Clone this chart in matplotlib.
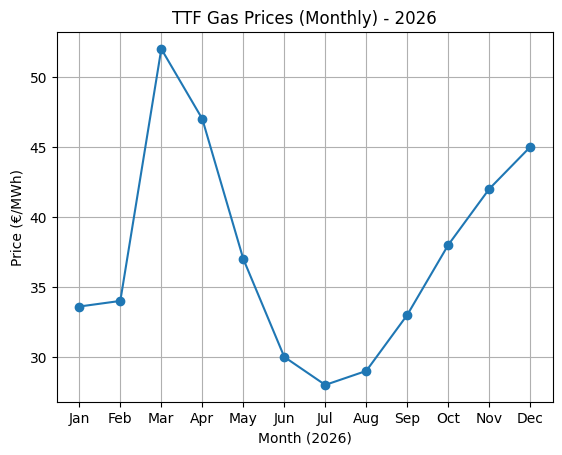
import matplotlib.pyplot as plt

months = ['Jan', 'Feb', 'Mar', 'Apr', 'May', 'Jun', 'Jul', 'Aug', 'Sep', 'Oct', 'Nov', 'Dec']
prices = [33.6, 34, 52, 47, 37, 30, 28, 29, 33, 38, 42, 45]

fig = plt.figure(figsize=(6.4, 4.8), dpi=100)
plt.plot(months, prices, marker='o')
plt.title('TTF Gas Prices (Monthly) - 2026')
plt.xlabel('Month (2026)')
plt.ylabel('Price (€/MWh)')
plt.grid(True)

plt.savefig('out.png', bbox_inches='tight')
